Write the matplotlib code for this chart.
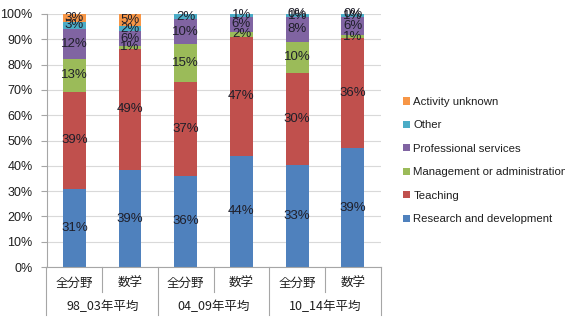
import numpy as np
import matplotlib
matplotlib.use('Agg')
import matplotlib.pyplot as plt
from matplotlib.lines import Line2D

plt.rcParams['font.family'] = ['Liberation Sans', 'Noto Sans CJK JP', 'DejaVu Sans']

# ---- data ----
fields = ['全分野', '数学', '全分野', '数学', '全分野', '数学']
periods = ['98_03年平均', '04_09年平均', '10_14年平均']
series_names = ['Research and development', 'Teaching', 'Management or administration',
                'Professional services', 'Other', 'Activity unknown']
research = [31, 39, 36, 44, 33, 39]
teaching = [39, 49, 37, 47, 30, 36]
management = [13, 1, 15, 2, 10, 1]
professional = [12, 6, 10, 6, 8, 6]
other = [3, 2, 2, 1, 1, 1]
unknown = [3, 5, np.nan, np.nan, 0, 0]
colors = ['#4F81BD', '#C0504D', '#9BBB59', '#8064A2', '#4BACC6', '#F79646']

W, H = 565, 317
fig = plt.figure(figsize=(W / 100, H / 100), dpi=100)
ax_left, ax_right, ax_top, ax_bot = 46.5, 380.7, 14, 267
ax = fig.add_axes([ax_left / W, 1 - ax_bot / H, (ax_right - ax_left) / W, (ax_bot - ax_top) / H])

data = np.array([research, teaching, management, professional, other, unknown], dtype=float)
totals = np.nansum(data, axis=0)
share = np.nan_to_num(data) / totals * 100
x = np.arange(len(fields))
bottom = np.zeros(len(fields))
handles = []
for i, name in enumerate(series_names):
    b = ax.bar(x, share[i], 0.41, bottom=bottom, color=colors[i], label=name, zorder=2)
    handles.append(b)
    for j in range(len(fields)):
        if not np.isnan(data[i, j]):
            ax.text(x[j], bottom[j] + share[i, j] / 2, f'{int(data[i, j])}%',
                    ha='center', va='center', fontsize=9.5, color='#1f1f2a', zorder=3)
    bottom = bottom + share[i]

ax.set_xlim(-0.5, len(fields) - 0.5)
ax.set_ylim(0, 100)
ax.set_yticks(np.arange(0, 101, 10))
ax.set_yticklabels([f'{v}%' for v in range(0, 101, 10)])
ax.yaxis.grid(True, color='#d9d9d9', lw=0.8)
ax.set_axisbelow(True)
for s in ['top', 'right']:
    ax.spines[s].set_visible(False)
for s in ['left', 'bottom']:
    ax.spines[s].set_color('#a6a6a6')
    ax.spines[s].set_linewidth(0.8)
ax.tick_params(axis='y', length=4, color='#a6a6a6', labelsize=9, pad=6, labelcolor='#1f1f1f')
ax.tick_params(axis='x', length=0, labelbottom=False)

# two-level category axis
trans = ax.get_xaxis_transform()
axh = ax_bot - ax_top
row1 = -24.7 / axh
row2 = -48.0 / axh
for j, lab in enumerate(fields):
    ax.text(x[j], -16.3 / axh, lab, transform=trans, ha='center', va='center',
            fontsize=9, color='#1f1f1f', family=['Noto Sans CJK JP', 'DejaVu Sans'])
for g, lab in enumerate(periods):
    ax.text(2 * g + 0.5, -39.7 / axh, lab, transform=trans, ha='center', va='center',
            fontsize=9, color='#1f1f1f', family=['Noto Sans CJK JP', 'DejaVu Sans'])
for k in range(len(fields) + 1):
    xb = k - 0.5
    yend = row2 if k % 2 == 0 else row1
    ax.add_line(Line2D([xb, xb], [0, yend], transform=trans, color='#a6a6a6',
                       lw=0.8, clip_on=False))

leg = fig.legend([handles[i] for i in range(5, -1, -1)],
                 [series_names[i] for i in range(5, -1, -1)],
                 loc='upper left', bbox_to_anchor=(403 / W, 1 - 97 / H),
                 frameon=False, fontsize=8.2, handlelength=0.6, handleheight=0.6,
                 handletextpad=0.3, labelspacing=1.18, borderpad=0, borderaxespad=0)
for t in leg.get_texts():
    t.set_color('#1f1f1f')

fig.savefig('out.png', dpi=100)
